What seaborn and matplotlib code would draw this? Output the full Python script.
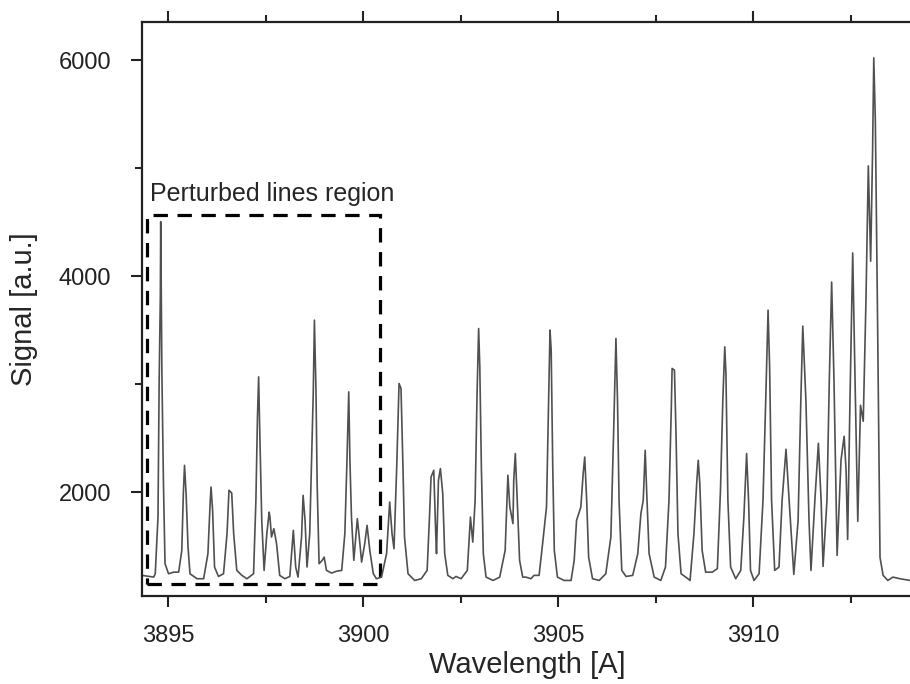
import matplotlib
matplotlib.use("Agg")
import matplotlib.pyplot as plt
from matplotlib.patches import Rectangle
from matplotlib.ticker import MultipleLocator
import pandas as pd
import seaborn as sns

# spectrum (wavelength in A, signal in a.u.)
wavelength = [
    3894.33, 3894.63, 3894.67, 3894.74, 3894.77, 3894.80, 3894.81, 3894.84, 3894.88, 3894.92,
    3895.01, 3895.14, 3895.27, 3895.35, 3895.39, 3895.42, 3895.46, 3895.51, 3895.56, 3895.74,
    3895.91, 3896.02, 3896.08, 3896.10, 3896.14, 3896.19, 3896.29, 3896.42, 3896.51, 3896.56,
    3896.63, 3896.68, 3896.76, 3896.89, 3897.02, 3897.19, 3897.25, 3897.29, 3897.32, 3897.35,
    3897.40, 3897.46, 3897.53, 3897.59, 3897.61, 3897.65, 3897.71, 3897.78, 3897.86, 3897.99,
    3898.12, 3898.21, 3898.27, 3898.33, 3898.42, 3898.46, 3898.51, 3898.56, 3898.63, 3898.68,
    3898.72, 3898.75, 3898.79, 3898.82, 3898.87, 3898.95, 3899.00, 3899.06, 3899.19, 3899.32,
    3899.45, 3899.53, 3899.58, 3899.63, 3899.66, 3899.70, 3899.76, 3899.85, 3899.90, 3899.96,
    3900.04, 3900.10, 3900.17, 3900.26, 3900.34, 3900.47, 3900.60, 3900.68, 3900.74, 3900.79,
    3900.86, 3900.92, 3900.97, 3901.02, 3901.06, 3901.15, 3901.32, 3901.49, 3901.64, 3901.70,
    3901.74, 3901.81, 3901.86, 3901.88, 3901.93, 3901.98, 3902.04, 3902.09, 3902.17, 3902.30,
    3902.38, 3902.51, 3902.67, 3902.75, 3902.81, 3902.87, 3902.92, 3902.96, 3902.99, 3903.03,
    3903.08, 3903.15, 3903.33, 3903.50, 3903.64, 3903.71, 3903.76, 3903.84, 3903.86, 3903.90,
    3903.95, 3904.01, 3904.09, 3904.17, 3904.30, 3904.38, 3904.51, 3904.60, 3904.70, 3904.75,
    3904.79, 3904.82, 3904.86, 3904.90, 3904.98, 3905.15, 3905.33, 3905.41, 3905.47, 3905.58,
    3905.64, 3905.68, 3905.73, 3905.78, 3905.88, 3906.05, 3906.22, 3906.35, 3906.42, 3906.48,
    3906.52, 3906.56, 3906.63, 3906.74, 3906.91, 3907.04, 3907.12, 3907.18, 3907.23, 3907.27,
    3907.33, 3907.46, 3907.63, 3907.75, 3907.84, 3907.90, 3907.92, 3907.98, 3908.02, 3908.07,
    3908.15, 3908.27, 3908.38, 3908.48, 3908.55, 3908.59, 3908.63, 3908.69, 3908.78, 3908.95,
    3909.08, 3909.16, 3909.22, 3909.27, 3909.30, 3909.35, 3909.42, 3909.55, 3909.68, 3909.76,
    3909.83, 3909.88, 3909.93, 3910.02, 3910.15, 3910.25, 3910.32, 3910.38, 3910.42, 3910.47,
    3910.55, 3910.66, 3910.74, 3910.84, 3910.92, 3911.04, 3911.15, 3911.22, 3911.27, 3911.35,
    3911.43, 3911.48, 3911.58, 3911.67, 3911.74, 3911.79, 3911.89, 3911.95, 3912.01, 3912.07,
    3912.15, 3912.25, 3912.33, 3912.38, 3912.42, 3912.48, 3912.55, 3912.61, 3912.68, 3912.75,
    3912.82, 3912.89, 3912.95, 3913.01, 3913.06, 3913.09, 3913.13, 3913.19, 3913.25, 3913.33,
    3913.45, 3913.58, 3913.76, 3914.02,
]
signal = [
    1231, 1215, 1246, 1771, 3038, 3810, 4506, 3103, 2083, 1339,
    1246, 1261, 1261, 1462, 1990, 2250, 1990, 1493, 1246, 1200,
    1200, 1432, 1926, 2049, 1833, 1308, 1221, 1246, 1617, 2019,
    1994, 1617, 1277, 1231, 1200, 1246, 1926, 2698, 3069, 2544,
    1740, 1277, 1617, 1817, 1771, 1586, 1663, 1524, 1231, 1200,
    1221, 1648, 1308, 1215, 1586, 1972, 1740, 1308, 1617, 2359,
    2915, 3594, 2946, 2081, 1339, 1370, 1400, 1277, 1252, 1270,
    1277, 1617, 2235, 2930, 2297, 1771, 1370, 1756, 1586, 1354,
    1524, 1694, 1462, 1246, 1200, 1215, 1432, 1910, 1617, 1478,
    2235, 3008, 2961, 2235, 1586, 1246, 1184, 1200, 1277, 1771,
    2142, 2204, 1617, 1432, 2111, 2220, 1988, 1432, 1231, 1200,
    1221, 1200, 1277, 1771, 1539, 1926, 2915, 3517, 3162, 2235,
    1432, 1215, 1184, 1215, 1462, 2158, 1864, 1710, 2111, 2359,
    1926, 1370, 1215, 1215, 1200, 1231, 1231, 1524, 1864, 2791,
    3502, 3316, 2235, 1462, 1215, 1184, 1184, 1370, 1740, 1864,
    2173, 2327, 1926, 1400, 1200, 1184, 1246, 1586, 2544, 3425,
    2853, 1926, 1277, 1221, 1231, 1432, 1803, 1926, 2389, 1988,
    1432, 1215, 1184, 1308, 1926, 2791, 3147, 3131, 2544, 1617,
    1246, 1215, 1184, 1617, 2081, 2297, 2081, 1462, 1261, 1261,
    1293, 2019, 2853, 3347, 3100, 1926, 1308, 1200, 1277, 1771,
    2359, 1926, 1277, 1184, 1246, 1926, 2853, 3687, 3162, 1926,
    1277, 1308, 1926, 2399, 1926, 1240, 1740, 2853, 3539, 2853,
    1740, 1277, 1926, 2454, 1926, 1314, 1926, 3038, 3947, 3038,
    1416, 2297, 2519, 2204, 1564, 2853, 4216, 3038, 1731, 2806,
    2658, 3780, 5022, 4141, 5170, 6023, 5448, 3502, 1397, 1231,
    1184, 1215, 1200, 1184,
]

# dashed box around the perturbed lines
box_x = [3894.45, 3900.43]
box_y = [1147, 4568]
box_label = "Perturbed lines region"

x_ticks = [3895, 3900, 3905, 3910]
y_ticks = [2000, 4000, 6000]

sns.set_style("ticks")
plt.rcParams['font.family'] = ['Liberation Sans', 'DejaVu Sans']

df = pd.DataFrame({'wavelength': wavelength, 'signal': signal})

fig = plt.figure(figsize=(9.1, 6.84), dpi=100)
ax = fig.add_axes([142 / 910, 88 / 684, 770 / 910, 574 / 684])

sns.lineplot(data=df, x='wavelength', y='signal', ax=ax,
             estimator=None, sort=False, color='#505050', linewidth=1.2)

ax.add_patch(Rectangle((box_x[0], box_y[0]), box_x[1] - box_x[0], box_y[1] - box_y[0],
                       fill=False, edgecolor='black', linewidth=2.3,
                       linestyle=(0, (4.5, 3))))
ax.text(box_x[0] + 0.08, 4700, box_label, fontsize=18, ha='left', va='baseline')

ax.set_xlim(3894.33, 3914.07)
ax.set_ylim(1040, 6355)
ax.set_xticks(x_ticks)
ax.set_yticks(y_ticks)
ax.xaxis.set_minor_locator(MultipleLocator(2.5))
ax.yaxis.set_minor_locator(MultipleLocator(1000))

ax.tick_params(which='both', direction='out', width=1.5, top=True, colors='#222222')
ax.tick_params(which='major', length=8, labelsize=17)
ax.tick_params(which='minor', length=5)
ax.tick_params(axis='x', pad=13)
ax.tick_params(axis='y', pad=14)

for side in ['left', 'bottom', 'top', 'right']:
    ax.spines[side].set_linewidth(1.6)
    ax.spines[side].set_color('#222222')

ax.set_xlabel('Wavelength [A]', fontsize=21, labelpad=3)
ax.set_ylabel('Signal [a.u.]', fontsize=21, labelpad=15)

fig.savefig('out.png', dpi=100)
